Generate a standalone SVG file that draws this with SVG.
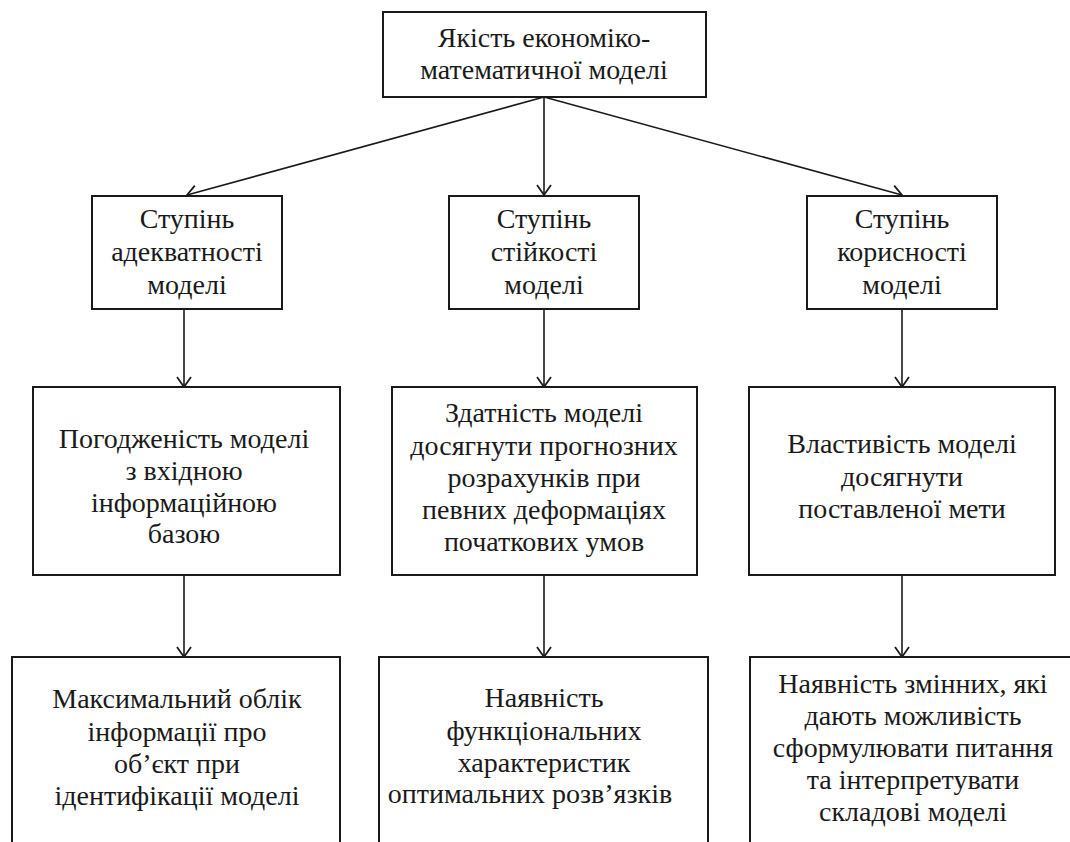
<svg xmlns="http://www.w3.org/2000/svg" width="1070" height="842" viewBox="0 0 1070 842" font-family="Liberation Serif, DejaVu Serif, serif">
<style>
.box{fill:#fff;stroke:#1a1a1a;stroke-width:2}
.t{font-size:28px;fill:#1a1a1a;text-anchor:middle}
.c{stroke:#1a1a1a;stroke-width:1.6;fill:none;marker-end:url(#arr)}
</style>
<defs>
<marker id="arr" markerUnits="userSpaceOnUse" markerWidth="20" markerHeight="20" viewBox="0 0 20 20" refX="17" refY="10" orient="auto">
<path d="M7,3 L17,10 L7,17" fill="none" stroke="#1a1a1a" stroke-width="1.8"/>
</marker>
</defs>
<rect width="1070" height="842" fill="#fff"/>
<g id="connectors">
<line class="c" x1="544" y1="97" x2="187" y2="195"/>
<line class="c" x1="544" y1="97" x2="544" y2="195"/>
<line class="c" x1="544" y1="97" x2="902" y2="195"/>
<line class="c" x1="184" y1="309" x2="184" y2="387"/>
<line class="c" x1="544" y1="309" x2="544" y2="387"/>
<line class="c" x1="902" y1="309" x2="902" y2="387"/>
<line class="c" x1="184" y1="575" x2="184" y2="657"/>
<line class="c" x1="544" y1="575" x2="544" y2="657"/>
<line class="c" x1="902" y1="575" x2="902" y2="657"/>
</g>
<g id="root">
<rect class="box" x="383" y="12" width="323" height="85"/>
<text class="t" x="544" y="47" font-family="Liberation Serif, serif">Якість економіко-</text>
<text class="t" x="544" y="79">математичної моделі</text>
</g>
<g id="adequacy">
<rect class="box" x="92" y="196" width="190" height="113"/>
<text class="t" x="187" y="228">Ступінь</text>
<text class="t" x="187" y="261">адекватності</text>
<text class="t" x="187" y="294">моделі</text>
</g>
<g id="stability">
<rect class="box" x="449" y="196" width="190" height="113"/>
<text class="t" x="544" y="228">Ступінь</text>
<text class="t" x="544" y="261">стійкості</text>
<text class="t" x="544" y="294">моделі</text>
</g>
<g id="usefulness">
<rect class="box" x="807" y="196" width="190" height="113"/>
<text class="t" x="902" y="228">Ступінь</text>
<text class="t" x="902" y="261">корисності</text>
<text class="t" x="902" y="294">моделі</text>
</g>
<g id="consistency">
<rect class="box" x="33" y="387" width="307" height="188"/>
<text class="t" x="184" y="448">Погодженість моделі</text>
<text class="t" x="184" y="480">з вхідною</text>
<text class="t" x="184" y="512">інформаційною</text>
<text class="t" x="184" y="543">базою</text>
</g>
<g id="ability">
<rect class="box" x="392" y="387" width="305" height="188"/>
<text class="t" x="544" y="422">Здатність моделі</text>
<text class="t" x="544" y="455">досягнути прогнозних</text>
<text class="t" x="544" y="487">розрахунків при</text>
<text class="t" x="544" y="519">певних деформаціях</text>
<text class="t" x="544" y="551">початкових умов</text>
</g>
<g id="property">
<rect class="box" x="749" y="387" width="306" height="188"/>
<text class="t" x="902" y="453">Властивість моделі</text>
<text class="t" x="902" y="486">досягнути</text>
<text class="t" x="902" y="518">поставленої мети</text>
</g>
<g id="max-info">
<rect class="box" x="12" y="657" width="328" height="200"/>
<text class="t" x="177" y="708">Максимальний облік</text>
<text class="t" x="177" y="741">інформації про</text>
<text class="t" x="177" y="773">об’єкт при</text>
<text class="t" x="177" y="805">ідентифікації моделі</text>
</g>
<g id="functional">
<rect class="box" x="379" y="657" width="329" height="200"/>
<text class="t" x="544" y="707">Наявність</text>
<text class="t" x="544" y="740">функціональних</text>
<text class="t" x="544" y="772">характеристик</text>
<text class="t" x="530" y="803">оптимальних розв’язків</text>
</g>
<g id="variables">
<rect class="box" x="750" y="657" width="330" height="200"/>
<text class="t" x="913" y="693">Наявність змінних, які</text>
<text class="t" x="913" y="725">дають можливість</text>
<text class="t" x="913" y="757">сформулювати питання</text>
<text class="t" x="913" y="789">та інтерпретувати</text>
<text class="t" x="913" y="821">складові моделі</text>
</g>
</svg>
